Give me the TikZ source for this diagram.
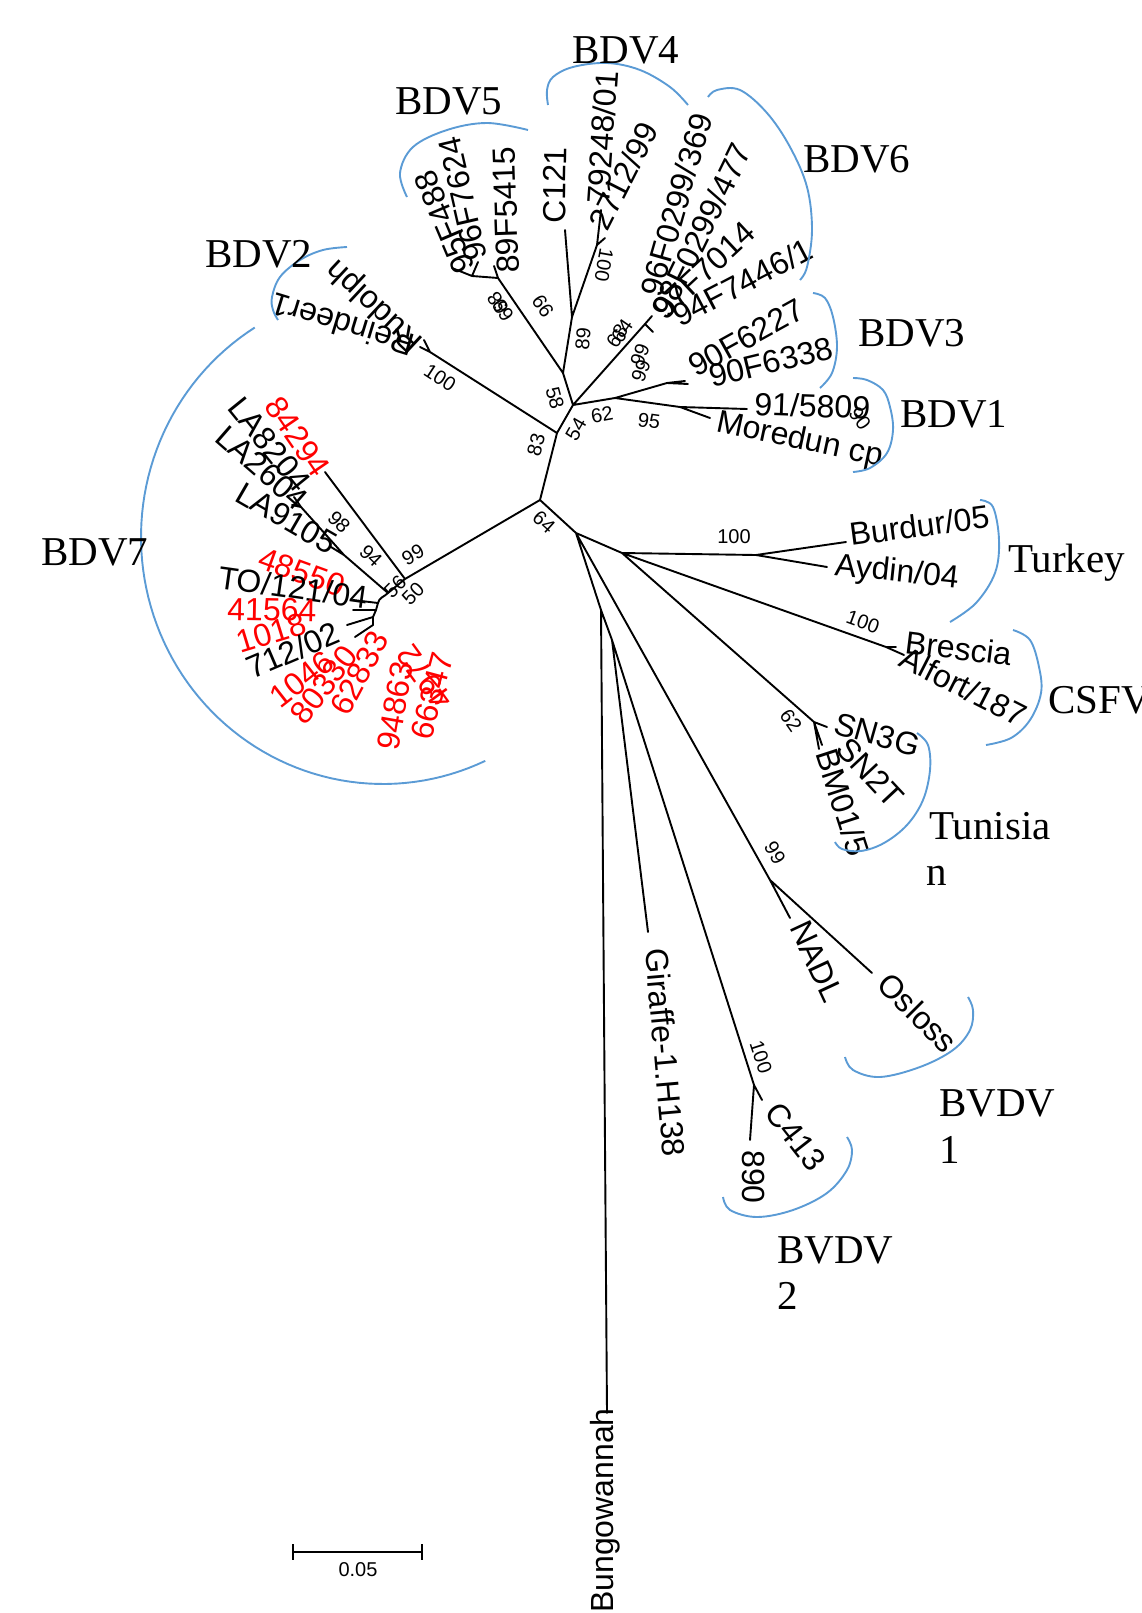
\documentclass[tikz,border=0pt]{standalone}
\usepackage{fontspec}
\newfontfamily\lsans{Liberation Sans}
\newfontfamily\lserif{Liberation Serif}
\definecolor{arcblue}{RGB}{91,155,213}
\begin{document}
\begin{tikzpicture}[x=1pt,y=-1pt,
  br/.style={line width=1.9pt, line cap=round},
  grparc/.style={line width=1.9pt, draw=arcblue},
  lf/.style={inner sep=0pt, anchor=base west, font=\lsans\fontsize{32}{38}\selectfont},
  lfr/.style={lf, text=red},
  bs/.style={inner sep=0pt, font=\lsans\fontsize{20}{24}\selectfont},
  gl/.style={inner sep=0pt, anchor=base west, font=\lserif\fontsize{41}{49}\selectfont}]
\useasboundingbox (0,0) rectangle (1142,1613);

% ---------- internal nodes and tips ----------
\coordinate (R0) at (540,500);
\coordinate (N83) at (557,433);
\coordinate (N54) at (573,405);
\coordinate (N89) at (563,373);
\coordinate (N4) at (572,317);
\coordinate (tC121) at (565,230);
\coordinate (N4b) at (597,245);
\coordinate (t79) at (601,210);
\coordinate (t27) at (605,238);
\coordinate (N5a) at (498,278);
\coordinate (t89) at (494,266);
\coordinate (N5c) at (472,276);
\coordinate (t95) at (452,268);
\coordinate (t96) at (478,262);
\coordinate (N2) at (430,352);
\coordinate (tRein) at (420,347);
\coordinate (tRud) at (424,340);
\coordinate (N6) at (645,324);
\coordinate (t6a) at (652,316);
\coordinate (t6b) at (653,332);
\coordinate (N31) at (615,398);
\coordinate (N3) at (667,383);
\coordinate (t6227) at (685,381);
\coordinate (t6338) at (688,384);
\coordinate (N1) at (680,407);
\coordinate (t5809) at (747,409);
\coordinate (tMor) at (710,418);

\coordinate (Nb) at (576,533);
\coordinate (Nt) at (622,553);
\coordinate (Ntk) at (756,555);
\coordinate (tBur) at (846,542);
\coordinate (tAyd) at (827,567);
\coordinate (Ncs) at (886,647);
\coordinate (tBre) at (896,647);
\coordinate (tAlf) at (904,655);
\coordinate (Ntn) at (814,722);
\coordinate (tSN3) at (827,727);
\coordinate (tSN2) at (822,745);
\coordinate (tBM) at (819,749);
\coordinate (Nc) at (601,610);
\coordinate (tBun) at (607,1413);
\coordinate (Nd) at (612,640);
\coordinate (tGir) at (648,932);
\coordinate (Nbv2) at (754,1085);
\coordinate (tC413) at (762,1100);
\coordinate (t890) at (750,1140);
\coordinate (Nbv1) at (770,880);
\coordinate (tNADL) at (790,918);
\coordinate (tOsl) at (872,973);

\coordinate (X7) at (405,579);
\coordinate (t842) at (325,472);
\coordinate (Y7) at (388,593);
\coordinate (Z7) at (344,555);
\coordinate (tLA91) at (331,547);
\coordinate (W7) at (301,507);
\coordinate (tLA82) at (294,497);
\coordinate (tLA26) at (292,505);
\coordinate (C1) at (378,603);
\coordinate (C2) at (376,610);
\coordinate (C3) at (373,617);
\coordinate (C4) at (373,625);
\coordinate (tTO) at (353,600);
\coordinate (t415) at (353,610);
\coordinate (t712a) at (347,625);
\coordinate (t712b) at (355,637);

% ---------- branches ----------
\draw[br] (R0) -- (N83) (N83) -- (N54) (N54) -- (N89) (N89) -- (N4)
  (N4) -- (tC121) (N4) -- (N4b) (N4b) -- (t79) (N4b) -- (t27)
  (N89) -- (N5a) (N5a) -- (t89) (N5a) -- (N5c) (N5c) -- (t95) (N5c) -- (t96)
  (N83) -- (N2) (N2) -- (tRein) (N2) -- (tRud)
  (N54) -- (N6) (N6) -- (t6a) (N6) -- (t6b)
  (N54) -- (N31) (N31) -- (N3) (N3) -- (t6227) (N3) -- (t6338)
  (N31) -- (N1) (N1) -- (t5809) (N1) -- (tMor);
\draw[br] (R0) -- (Nb) (Nb) -- (Nt) (Nt) -- (Ntk) (Ntk) -- (tBur) (Ntk) -- (tAyd)
  (Nt) -- (Ncs) (Ncs) -- (tBre) (Ncs) -- (tAlf)
  (Nt) -- (Ntn) (Ntn) -- (tSN3) (Ntn) -- (tSN2) (Ntn) -- (tBM)
  (Nb) -- (Nc) (Nc) -- (tBun) (Nc) -- (Nd) (Nd) -- (tGir) (Nd) -- (Nbv2)
  (Nbv2) -- (tC413) (Nbv2) -- (t890)
  (Nb) -- (Nbv1) (Nbv1) -- (tNADL) (Nbv1) -- (tOsl);
\draw[br] (R0) -- (X7) (X7) -- (t842) (X7) -- (Y7) (Y7) -- (Z7) (Z7) -- (tLA91)
  (Z7) -- (W7) (W7) -- (tLA82) (W7) -- (tLA26)
  (C1) -- (tTO) (C2) -- (t415) (C3) -- (t712a) (C4) -- (t712b);
\draw[br] (Y7) to[out=225,in=80] (C1) -- (C2) -- (C3) -- (C4);

% ---------- leaf labels ----------
\node[lf, rotate=7.5] (lBur) at (851,546) {Burdur/05};
\node[lf, rotate=-6] (lAyd) at (834,575) {Aydin/04};
\node[lf, rotate=-7] (lBre) at (904,653) {Brescia};
\node[lf, rotate=-27] (lAlf) at (897,665) {Alfort/187};
\node[lf, rotate=-16] (lSN3) at (832,733) {SN3G};
\node[lf, rotate=-47] (lSN2) at (834,750) {SN2T};
\node[lf, rotate=-72] (lBM) at (815,753) {BM01/5};
\node[lf, rotate=-65] (lNADL) at (789,927) {NADL};
\node[lf, rotate=-45] (lOsl) at (875,986) {Osloss};
\node[lf, rotate=-52] (lC413) at (763,1113) {C413};
\node[lf, rotate=-90] (l890) at (742,1150) {890};
\node[lf, rotate=-85] (lGir) at (645,949) {Giraffe-1.H138};
\node[lf, rotate=90] (lBun) at (613,1613) {Bungowannah};

\node[lf, rotate=-12] (lMor) at (715,431) {Moredun cp};
\node[lf, rotate=-2] (l5809) at (754,415) {91/5809};
\node[lf, rotate=13.6] (l6338) at (712,388) {90F6338};
\node[lf, rotate=29] (l6227) at (696,378) {90F6227};
\node[lf, rotate=74] (l369) at (661,299) {96F0299/369};
\node[lf, rotate=64] (l477) at (670,320) {98F0299/477};
\node[lf, rotate=43] (l7014) at (665,322) {97F7014};
\node[lf, rotate=27.6] (l7446) at (680,328) {94F7446/1};
\node[lf, rotate=89] (lC121) at (565,224) {C121};
\node[lf, rotate=86] (l79248) at (609,205) {79248/01};
\node[lf, rotate=63] (l2712) at (607,233) {2712/99};
\node[lf, rotate=92] (l5415) at (519,273) {89F5415};
\node[lf, rotate=103] (l7624) at (488,258) {96F7624};
\node[lf, rotate=113] (l488) at (476,268) {95F488};
\node[lf, rotate=163] (lRein) at (417,336) {Reindeer1};
\node[lf, rotate=137] (lRud) at (425,340) {Rudolph};

\node[lfr, rotate=-55.6] (l84294) at (263,406) {84294};
\node[lf, rotate=-51] (lLA82) at (226,408) {LA8204};
\node[lf, rotate=-41] (lLA26) at (213,440) {LA2604};
\node[lf, rotate=-30] (lLA91) at (233,500) {LA9105};
\node[lfr, rotate=-20] (l48550) at (256,567) {48550};
\node[lf, rotate=-8] (lTO) at (217,588) {TO/121/04};
\node[lfr, rotate=-1] (l41564) at (227,620) {41564};
\node[lfr, rotate=17] (l1018) at (240,654) {1018};
\node[lf, rotate=23] (l712) at (252,680) {712/02};
\node[lfr, rotate=38] (l1046) at (280,710) {1046};
\node[lfr, rotate=52] (l80330) at (305,727) {80330};
\node[lfr, rotate=62] (l628) at (348,718) {62833};
\node[lfr, rotate=80] (l948) at (398,752) {94863};
\node[lfr, rotate=75] (l663) at (431,742) {66347};
\node[lfr, rotate=126] (l497) at (455,700) {4972};

% ---------- bootstrap values ----------
\node[bs, rotate=-33] (b1) at (440,378) {100};
\node[bs, rotate=75] (b2) at (536,445) {83};
\node[bs, rotate=-75] (b3) at (555,398) {58};
\node[bs, rotate=60] (b4) at (576,429) {54};
\node[bs, rotate=10] (b5) at (602,415) {62};
\node[bs, rotate=-8] (b6) at (649,421) {95};
\node[bs, rotate=85] (b7) at (583,339) {89};
\node[bs, rotate=-100] (b8) at (604,265) {100};
\node[bs, rotate=124] (b9) at (543,306) {99};
\node[bs, rotate=124] (b10) at (498,303) {68};
\node[bs, rotate=124] (b11) at (503,310) {69};
\node[bs, rotate=55] (b12) at (617,336) {68};
\node[bs, rotate=55] (b13) at (622,331) {64};
\node[bs, rotate=70] (b14) at (640,355) {99};
\node[bs, rotate=70] (b15) at (641,371) {99};
\node[bs, rotate=30] (b16) at (413,555) {99};
\node[bs, rotate=-44] (b17) at (371,556) {94};
\node[bs, rotate=-45] (b18) at (339,522) {98};
\node[bs, rotate=45] (b19) at (395,587) {56};
\node[bs, rotate=45] (b20) at (413,594) {50};
\node[bs, rotate=-42] (b21) at (544,522) {64};
\node[bs] (b22) at (734,537) {100};
\node[bs, rotate=-20] (b23) at (863,622) {100};
\node[bs, rotate=-55] (b24) at (791,721) {62};
\node[bs, rotate=-60] (b25) at (775,853) {99};
\node[bs, rotate=-72] (b26) at (761,1057) {100};
\node[bs, rotate=-55] (b27) at (860,419) {90};

% ---------- group arcs ----------
\draw[grparc] plot[smooth, tension=0.6] coordinates {(407,197) (400,173) (413,147) (447,130) (487,123) (528,130)};
\draw[grparc] plot[smooth, tension=0.6] coordinates {(548,105) (547,90) (553,77) (573,67) (607,63) (640,70) (670,87) (688,105)};
\draw[grparc] plot[smooth, tension=0.6] coordinates {(708,97) (717,90) (740,90) (767,113) (790,147) (807,187) (812,230) (807,267) (800,280)};
\draw[grparc] plot[smooth, tension=0.6] coordinates {(347,247) (323,250) (300,260) (280,277) (272,297) (273,310) (278,320)};
\draw[grparc] plot[smooth, tension=0.6] coordinates {(813,293) (825,298) (833,317) (837,347) (832,373) (820,388)};
\draw[grparc] plot[smooth, tension=0.6] coordinates {(853,378) (867,380) (883,390) (890,407) (893,430) (887,453) (870,468) (853,472)};
\draw[grparc] plot[smooth, tension=0.6] coordinates {(980,500) (993,507) (999,540) (995,573) (976,603) (950,622)};
\draw[grparc] plot[smooth, tension=0.6] coordinates {(1013,630) (1030,640) (1039,667) (1041,693) (1030,720) (1011,738) (986,745)};
\draw[grparc] plot[smooth, tension=0.6] coordinates {(917,733) (928,745) (930,770) (923,800) (907,825) (884,843) (861,851) (842,849) (835,842)};
\draw[grparc] plot[smooth, tension=0.6] coordinates {(968,997) (973,1010) (970,1030) (953,1050) (920,1067) (880,1077) (853,1070) (845,1057)};
\draw[grparc] plot[smooth, tension=0.6] coordinates {(847,1137) (852,1150) (847,1170) (827,1193) (793,1210) (757,1217) (730,1210) (723,1197)};
\draw[grparc] plot[domain=122:295, samples=80] ({383+242*cos(\x)}, {537-247*sin(\x)});

% ---------- group labels ----------
\node[gl] (gB4) at (572,64) {BDV4};
\node[gl] (gB5) at (395,115) {BDV5};
\node[gl] (gB6) at (803,173) {BDV6};
\node[gl] (gB2) at (205,268) {BDV2};
\node[gl] (gB3) at (858,346) {BDV3};
\node[gl] (gB1) at (900,427) {BDV1};
\node[gl] (gB7) at (41,565) {BDV7};
\node[gl] (gTk) at (1008,572) {Turkey};
\node[gl] (gCS) at (1048,713) {CSFV};
\node[gl] (gTn) at (929,839) {Tunisia};
\node[gl] (gTn2) at (926,885) {n};
\node[gl] (gV1) at (939,1116) {BVDV};
\node[gl] (gV1b) at (939,1163) {1};
\node[gl] (gV2) at (777,1263) {BVDV};
\node[gl] (gV2b) at (777,1309) {2};

% ---------- scale bar ----------
\coordinate (sbL) at (293,1552);
\coordinate (sbR) at (422,1552);
\draw[line width=1.9pt] (sbL) -- (sbR);
\draw[line width=1.9pt] (sbL) ++(0,-8) -- ++(0,16);
\draw[line width=1.9pt] (sbR) ++(0,-8) -- ++(0,16);
\node[bs] (sbT) at (358,1570) {0.05};
\end{tikzpicture}
\end{document}
